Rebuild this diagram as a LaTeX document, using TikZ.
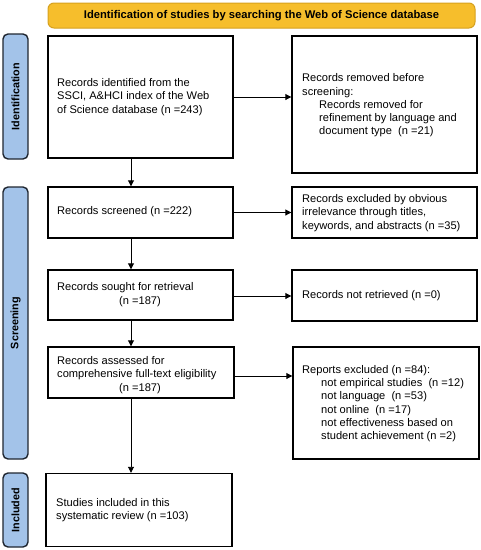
\documentclass[tikz,border=0pt]{standalone}
\usepackage{fontspec}
\setmainfont{Liberation Sans}
\usetikzlibrary{arrows.meta}
\definecolor{banfill}{HTML}{F6BE2C}
\definecolor{banline}{HTML}{D6A11E}
\definecolor{sidefill}{HTML}{A3C3E9}
\definecolor{sideline}{HTML}{1F2630}
\begin{document}
\begin{tikzpicture}[x=1pt,y=-1pt,
  box/.style={draw=black,line width=1.4pt,fill=white},
  txt/.style={anchor=west,align=left,font=\fontsize{11.1}{13.3}\selectfont,inner sep=0pt},
  side/.style={draw=sideline,fill=sidefill,line width=1.4pt,rounded corners=5pt},
  sidetxt/.style={rotate=90,font=\bfseries\fontsize{10.8}{12}\selectfont},
  arr/.style={line width=0.9pt,-{Triangle[length=6pt,width=6pt]}}]
\useasboundingbox (0,0) rectangle (481,550);
% banner
\draw[draw=banline,fill=banfill,line width=1pt,rounded corners=6pt] (48,3) rectangle (475,28);
\node[font=\bfseries\fontsize{11.2}{12}\selectfont] (ban) at (261.5,15.5) {Identification of studies by searching the Web of Science database};
% side labels
\draw[side] (3,34) rectangle (28,159);
\node[sidetxt] (sid) at (15.5,96.5) {Identification};
\draw[side] (3,187) rectangle (28,459);
\node[sidetxt] (ssc) at (15.5,323) {Screening};
\draw[side] (3,473) rectangle (28,547);
\node[sidetxt] (sin) at (15.5,510) {Included};
% boxes
\node[box,minimum width=185pt,minimum height=122pt,inner sep=0pt] (b1) at (140.5,97) {};
\node[txt] (t1) at (57,97) {Records identified from the\\SSCI, A\&HCI index of the Web\\of Science database (n =243)};
\node[box,minimum width=185pt,minimum height=137pt,inner sep=0pt] (b2) at (384.5,104.5) {};
\node[txt] (t2) at (302,105.5) {Records removed before\\screening:\\\hspace*{17pt}Records removed for\\\hspace*{17pt}refinement by language and\\\hspace*{17pt}document type\ \ (n =21)};
\node[box,minimum width=185pt,minimum height=51pt,inner sep=0pt] (b3) at (140.5,212.5) {};
\node[txt] (t3) at (57,211.5) {Records screened (n =222)};
\node[box,minimum width=185pt,minimum height=51pt,inner sep=0pt] (b4) at (384.5,212.5) {};
\node[txt] (t4) at (302,213) {Records excluded by obvious\\irrelevance through titles,\\keywords, and abstracts (n =35)};
\node[box,minimum width=185pt,minimum height=50pt,inner sep=0pt] (b5) at (140.5,295) {};
\node[txt] (t5) at (57,294.5) {Records sought for retrieval\\\hspace*{62pt}(n =187)};
\node[box,minimum width=185pt,minimum height=51pt,inner sep=0pt] (b6) at (384.5,295.5) {};
\node[txt] (t6) at (302,296) {Records not retrieved (n =0)};
\node[box,minimum width=186pt,minimum height=51pt,inner sep=0pt] (b7) at (141,372.5) {};
\node[txt] (t7) at (57,375) {Records assessed for\\comprehensive full-text eligibility\\\hspace*{62pt}(n =187)};
\node[box,minimum width=186pt,minimum height=112pt,inner sep=0pt] (b8) at (386,403) {};
\node[txt] (t8) at (302,403.5) {Reports excluded (n =84):\\\hspace*{19pt}not empirical studies\ \ (n =12)\\\hspace*{19pt}not language\ \ (n =53)\\\hspace*{19pt}not online\ \ (n =17)\\\hspace*{19pt}not effectiveness based on\\\hspace*{19pt}student achievement (n =2)};
\node[box,minimum width=186pt,minimum height=73pt,inner sep=0pt] (b9) at (139,510) {};
\node[txt] (t9) at (56,510) {Studies included in this\\systematic review (n =103)};
% connectors
\coordinate (col) at (131,0);
\coordinate (r1) at (0,97);
\coordinate (r7) at (0,376);
\draw[arr] (b1.east |- r1) -- (b2.west |- r1);
\draw[arr] (b3.east) -- (b4.west |- b3.east);
\draw[arr] (b5.east |- t6.west) -- (b6.west |- t6.west);
\draw[arr] (b7.east |- r7) -- (b8.west |- r7);
\draw[arr] (b1.south -| col) -- (b3.north -| col);
\draw[arr] (b3.south -| col) -- (b5.north -| col);
\draw[arr] (b5.south -| col) -- (b7.north -| col);
\draw[arr] (b7.south -| col) -- (b9.north -| col);
\end{tikzpicture}
\end{document}
